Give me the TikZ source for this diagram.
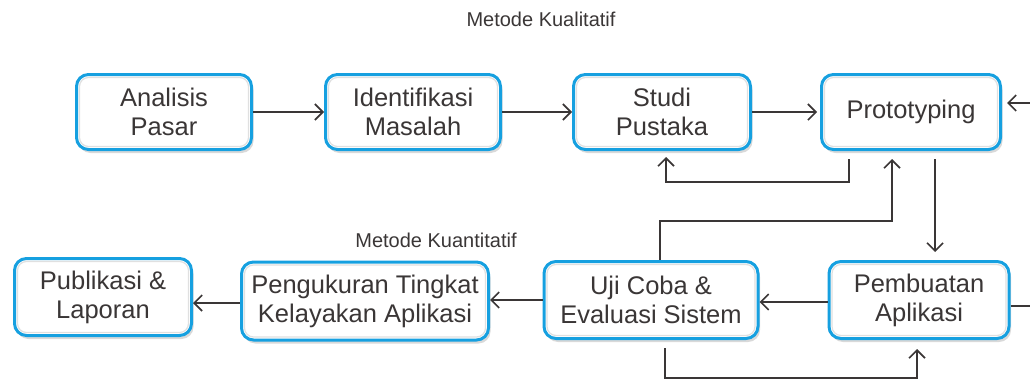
\documentclass[tikz,border=0pt]{standalone}
\usepackage{fontspec}
\setmainfont{Liberation Sans}
\usepackage{xcolor}
\usepackage{tikz}
\usetikzlibrary{positioning}
\usetikzlibrary{arrows.meta,shadows}
\definecolor{boxblue}{RGB}{22,160,224}
\definecolor{ink}{RGB}{58,54,54}

\begin{document}
\begin{tikzpicture}[x=1pt,y=-1pt,node distance=249pt,on grid,
    >={Straight Barb[length=8pt,width=16pt]},
    box/.style={draw=boxblue,line width=3pt,rounded corners=12pt,fill=white,
      minimum height=75pt,align=center,text=ink,
      font=\fontsize{25.5}{29}\selectfont,
      drop shadow={shadow xshift=2pt,shadow yshift=-3.5pt,opacity=.3},
      path picture={\draw[black!12,line width=1.2pt,rounded corners=9pt]
        ([shift={(3pt,-3pt)}]path picture bounding box.north west) rectangle
        ([shift={(-3pt,3pt)}]path picture bounding box.south east);}},
    lbl/.style={text=ink,font=\fontsize{20}{24}\selectfont},
    conn/.style={->,draw=ink,line width=1.6pt}]
  \useasboundingbox (0,0) rectangle (1030,380);
  % upper row
  \node[box,minimum width=175pt] (ap) at (164,112) {Analisis\\Pasar};
  \node[box,minimum width=175pt] (im) [right=of ap] {Identifikasi\\Masalah};
  \node[box,minimum width=177pt] (sp) [right=of im] {Studi\\Pustaka};
  \node[box,minimum width=179pt] (pt) [right=of sp] {Prototyping};
  % lower row
  \node[box,minimum width=177pt,minimum height=77pt] (pl) at (103,297) {Publikasi \&\\Laporan};
  \node[box,minimum width=247pt,minimum height=78pt] (pg) at (365,301) {Pengukuran Tingkat\\Kelayakan Aplikasi};
  \node[box,minimum width=214pt,minimum height=77pt] (uj) at (651,300) {Uji Coba \&\\Evaluasi Sistem};
  \node[box,minimum width=180pt,minimum height=77pt] (pm) at (919,300) {Pembuatan\\Aplikasi};
  \node[lbl] (mk1) at (541,19) {Metode Kualitatif};
  \node[lbl] (mk2) at (436,240) {Metode Kuantitatif};
  \coordinate (inR) at (1030,103);
  \coordinate (outR) at (1030,306);

  \draw[conn] (ap) -- (im);
  \draw[conn] (im) -- (sp);
  \draw[conn,shorten >=3pt] (sp) -- (pt);
  \draw[conn,shorten >=5pt] (inR) -- (inR -| pt.east);
  \draw[conn,shorten <=8pt,shorten >=6pt] ([xshift=-62pt]pt.south) -- ++(0,31) -| ([xshift=4pt]sp.south);
  \draw[conn,shorten <=8pt,shorten >=8pt] ([xshift=24pt]pt.south) -- ([xshift=24pt]pt.south |- pm.north);
  \draw[conn,shorten >=8pt] ([xshift=9pt]uj.north) -- ++(0,-39) -| ([xshift=-19pt]pt.south);
  \draw[conn,shorten <=8pt,shorten >=9pt] ([xshift=14pt]uj.south) -- ++(0,38) -| ([xshift=-2pt]pm.south);
  \draw[conn] ([yshift=-2pt]pm.west) -- ([yshift=-2pt]pm.west -| uj.east);
  \draw[conn] (uj.west) -- (uj.west -| pg.east);
  \draw[conn] ([yshift=-6pt]pl.east -| pg.west) -- ([yshift=-6pt]pl.east);
  \draw[conn,-] (pm.east |- outR) -- (outR);
\end{tikzpicture}
\end{document}
